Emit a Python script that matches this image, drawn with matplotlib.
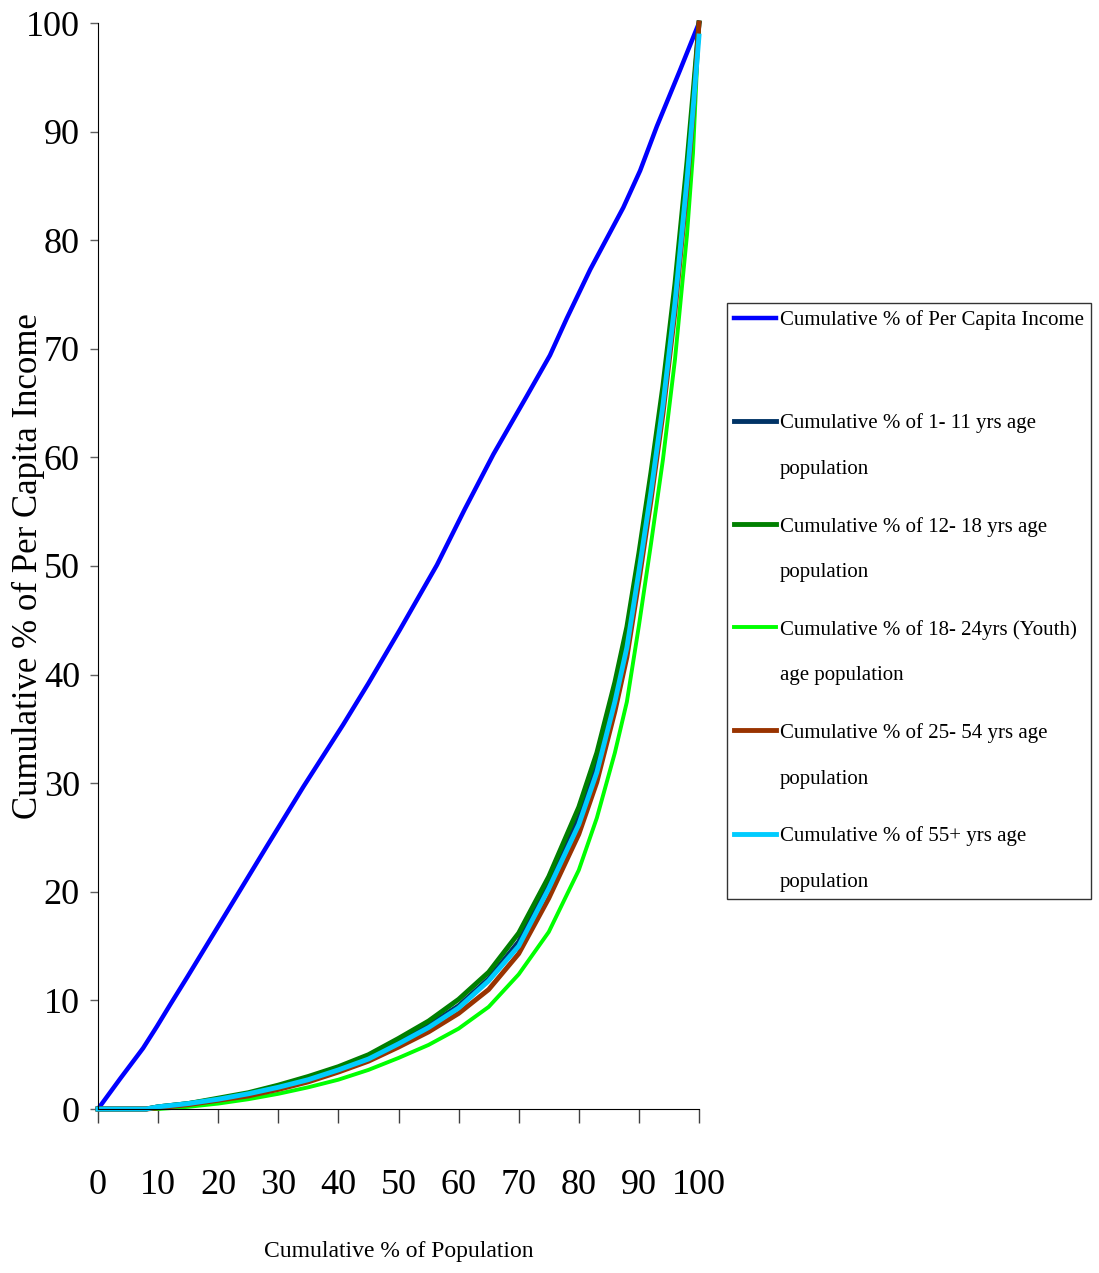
import matplotlib
matplotlib.use("Agg")
import matplotlib.pyplot as plt

plt.rcParams['font.family'] = ['Liberation Serif', 'DejaVu Serif']

# cumulative % of population (x) for the group curves
pop_pct = [0, 8, 10, 15, 20, 25, 30, 35, 40, 45, 50, 55, 60, 65, 70,
           75, 80, 83, 86, 88, 90, 92, 94, 96, 98, 99, 100]

age_1_11 = [0, 0, 0.2, 0.5, 0.9, 1.4, 2.0, 2.8, 3.7, 4.8, 6.2, 7.7, 9.5, 12.0, 15.4,
            20.8, 26.8, 31.6, 38.0, 43.0, 50.0, 57.3, 65.3, 74.7, 86.0, 92.5, 100]
age_12_18 = [0, 0, 0.2, 0.5, 1.0, 1.5, 2.2, 3.0, 3.9, 5.0, 6.5, 8.1, 10.1, 12.6, 16.2,
             21.4, 27.8, 32.8, 39.3, 44.4, 51.2, 58.6, 66.6, 76.0, 87.2, 93.5, 100]
age_18_24 = [0, 0, 0, 0.2, 0.5, 0.9, 1.4, 2.0, 2.7, 3.6, 4.7, 5.9, 7.4, 9.4, 12.4,
             16.3, 22.0, 26.8, 32.8, 37.5, 44.5, 52.0, 59.8, 69.0, 80.5, 88.0, 100]
age_25_54 = [0, 0, 0.1, 0.4, 0.8, 1.2, 1.8, 2.5, 3.4, 4.4, 5.7, 7.1, 8.8, 11.0, 14.3,
             19.4, 25.3, 30.1, 36.6, 41.6, 48.6, 56.0, 64.0, 73.4, 84.8, 91.5, 100]
age_55p = [0, 0, 0.2, 0.5, 0.9, 1.4, 2.0, 2.7, 3.6, 4.6, 6.0, 7.5, 9.3, 11.8, 15.0,
           20.3, 26.2, 31.0, 37.5, 42.5, 49.5, 56.8, 64.8, 74.2, 85.5, 92.0, 98.8]

# per capita income curve
inc_x = [0, 3.7, 7.5, 9.8, 12, 14.8, 19.2, 23.6, 28.1, 34.2, 40.8, 45, 50.2, 56.4,
         61, 65.8, 71.3, 75.2, 78, 81.9, 87.4, 90.2, 93, 96.8, 100]
inc_y = [0, 2.8, 5.6, 7.6, 9.6, 12.1, 16.1, 20.1, 24.2, 29.7, 35.4, 39.2, 44.1, 50.1,
         55.2, 60.3, 65.6, 69.4, 72.8, 77.3, 83.0, 86.4, 90.5, 95.6, 100]

labels = ["Cumulative % of Per Capita Income\n",
          "Cumulative % of 1- 11 yrs age\npopulation",
          "Cumulative % of 12- 18 yrs age\npopulation",
          "Cumulative % of 18- 24yrs (Youth)\nage population",
          "Cumulative % of 25- 54 yrs age\npopulation",
          "Cumulative % of 55+ yrs age\npopulation"]
colors = ["#0000FF", "#003366", "#008000", "#00FF00", "#993300", "#00CCFF"]

fig = plt.figure(figsize=(10.99, 12.73), dpi=100)
ax = fig.add_axes([98/1099, 1 - 1109/1273, 601/1099, 1086/1273])

lines = []
lines += ax.plot(inc_x, inc_y, color=colors[0], lw=3.2, clip_on=False)
lines += ax.plot(pop_pct, age_1_11, color=colors[1], lw=3.5, clip_on=False)
lines += ax.plot(pop_pct, age_12_18, color=colors[2], lw=3.5, clip_on=False)
lines += ax.plot(pop_pct, age_18_24, color=colors[3], lw=2.8, clip_on=False)
lines += ax.plot(pop_pct, age_25_54, color=colors[4], lw=3.5, clip_on=False)
lines += ax.plot(pop_pct, age_55p, color=colors[5], lw=3.5, clip_on=False)

ax.set_xlim(0, 100)
ax.set_ylim(0, 100)
ax.set_xticks(range(0, 101, 10))
ax.set_yticks(range(0, 101, 10))
ax.spines['top'].set_visible(False)
ax.spines['right'].set_visible(False)
ax.tick_params(axis='x', direction='out', length=10, width=1, color='#404040', pad=33, labelsize=26)
ax.tick_params(axis='y', direction='out', length=6, width=1, color='#606060', pad=7, labelsize=26)

ax.set_xlabel('Cumulative % of Population', fontsize=17)
ax.xaxis.set_label_coords(0.5, -0.122)
ax.set_ylabel('Cumulative % of Per Capita Income', fontsize=25)
ax.yaxis.set_label_coords(-0.089, 0.5)

leg = ax.legend(lines, labels, loc='upper left', bbox_to_anchor=(727/1099, 1 - 303/1273),
                bbox_transform=fig.transFigure, borderaxespad=0, fancybox=False,
                edgecolor='black', fontsize=15, handlelength=2.0, handletextpad=0.2,
                labelspacing=1.81, borderpad=0.35)
leg.get_frame().set_linewidth(1.0)
for t in leg.get_texts():
    t.set_linespacing(2.9)
# put the handle next to the first line of each label
for col in leg._legend_handle_box.get_children():
    for item in col.get_children():
        item.align = 'top'

fig.savefig('out.png', dpi=100)
